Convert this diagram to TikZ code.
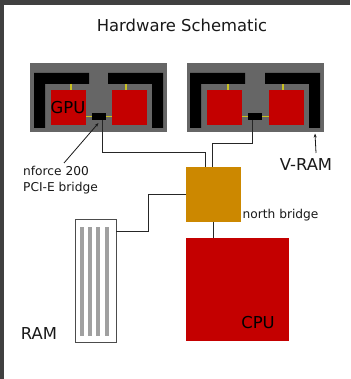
\documentclass[tikz,border=0pt]{standalone}
\usepackage{fontspec}
\setmainfont{DejaVu Sans}
\usetikzlibrary{arrows.meta}
\definecolor{cardgray}{HTML}{666666}
\definecolor{chipred}{HTML}{C40000}
\definecolor{nborange}{HTML}{CC8800}
\definecolor{barsgray}{HTML}{A0A0A0}
\definecolor{winframe}{HTML}{404040}
\definecolor{linkyellow}{HTML}{C8C020}
\tikzset{
  block/.style={inner sep=0pt,outer sep=0pt,anchor=north west},
  card/.style={block,fill=cardgray,minimum width=137pt,minimum height=69pt},
  gpuchip/.style={block,fill=chipred,minimum width=35pt,minimum height=35pt},
  bridge/.style={block,fill=black,minimum width=14pt,minimum height=7pt},
  ramstick/.style={block,fill=barsgray,minimum width=4pt,minimum height=109pt},
  link/.style={line width=1pt,black!85},
  ylink/.style={line width=1.3pt,linkyellow},
  pointer/.style={line width=0.8pt,black!90,-{Stealth[length=4pt,width=3pt]}},
  biglabel/.style={inner sep=0pt,text=black!90,font=\fontsize{16.4}{19}\selectfont},
  smalllabel/.style={inner sep=0pt,text=black!90,font=\fontsize{12.2}{15.5}\selectfont}
}
\begin{document}
\begin{tikzpicture}[x=1pt,y=-1pt]
\useasboundingbox (0,0) rectangle (350,379);
\fill[white] (0,0) rectangle (350,379);
\fill[winframe] (0,0) rectangle (350,5);
\fill[winframe] (0,0) rectangle (4,379);

\node[biglabel] (title) at (182,25) {Hardware Schematic};

% left card
\node[card] (carda) at (30,63) {};
\fill[black] (34,73) -- (89,73) -- (89,84) -- (45,84) -- (45,128) -- (34,128) -- cycle;
\fill[black] (108,73) -- (163,73) -- (163,128) -- (152,128) -- (152,84) -- (108,84) -- cycle;
\node[gpuchip] (gpua) at (51,90) {};
\node[gpuchip] (gpub) at (112,90) {};
\node[bridge] (bra) at (92,113) {};
\draw[ylink] (gpua.east |- bra.center) -- (bra.west);
\draw[ylink] (bra.east) -- (gpub.west |- bra.center);
\coordinate (vra) at (71,84);
\coordinate (vrb) at (126,84);
\draw[ylink] (vra) -- (vra |- gpua.north);
\draw[ylink] (vrb) -- (vrb |- gpub.north);
\node[biglabel,text=black] (gpulabel) at (68,107.5) {GPU};

% right card
\node[card] (cardb) at (187,63) {};
\fill[black] (190,73) -- (245,73) -- (245,84) -- (201,84) -- (201,128) -- (190,128) -- cycle;
\fill[black] (265,73) -- (320,73) -- (320,128) -- (309,128) -- (309,84) -- (265,84) -- cycle;
\node[gpuchip] (gpuc) at (207,90) {};
\node[gpuchip] (gpud) at (269,90) {};
\node[bridge] (brb) at (248,113) {};
\draw[ylink] (gpuc.east |- brb.center) -- (brb.west);
\draw[ylink] (brb.east) -- (gpud.west |- brb.center);
\coordinate (vrc) at (228,84);
\coordinate (vrd) at (283,84);
\draw[ylink] (vrc) -- (vrc |- gpuc.north);
\draw[ylink] (vrd) -- (vrd |- gpud.north);

% north bridge and cpu
\node[block,fill=nborange,minimum width=55pt,minimum height=55pt] (nb) at (186,167) {};
\node[block,fill=chipred,minimum width=103pt,minimum height=103pt] (cpu) at (186,238) {};
\node[smalllabel,anchor=west] (nblabel) at (242.5,215) {north bridge};
\node[biglabel,text=black] (cpulabel) at (258,322.5) {CPU};

% ram
\node[block,draw=black!70,fill=white,line width=0.9pt,minimum width=41pt,minimum height=122.5pt] (ram) at (75,219.5) {};
\node[ramstick] (s1) at (80,227) {};
\node[ramstick] (s2) at (88,227) {};
\node[ramstick] (s3) at (96,227) {};
\node[ramstick] (s4) at (105,227) {};
\node[biglabel] (ramlabel) at (39,333.5) {RAM};

% labels with pointers
\node[smalllabel,anchor=north west,align=left] (nflabel) at (23,166.5) {nforce 200\\PCI-E bridge};
\node[biglabel] (vrlabel) at (306,164.5) {V-RAM};
\coordinate (nfstart) at (64,163);
\coordinate (nfend) at (98.5,123);
\coordinate (vrstart) at (316,153);
\coordinate (vrend) at (315,133.5);
\draw[pointer] (nfstart) -- (nfend);
\draw[pointer] (vrstart) -- (vrend);

% connectors
\coordinate (ja) at (102,153);
\coordinate (jb) at (252,144);
\coordinate (jc) at (148.5,231);
\coordinate (nbin) at (205,167);
\coordinate (nbinb) at (212,167);
\coordinate (nbout) at (213,222);
\coordinate (nbleft) at (186,194);
\draw[link] (ja |- bra.south) -- (ja) -- (ja -| nbin) -- (nbin);
\draw[link] (jb |- brb.south) -- (jb) -- (jb -| nbinb) -- (nbinb);
\draw[link] (nbout) -- (nbout |- cpu.north);
\draw[link] (ram.east |- jc) -- (jc) -- (jc |- nbleft) -- (nbleft);
\end{tikzpicture}
\end{document}
